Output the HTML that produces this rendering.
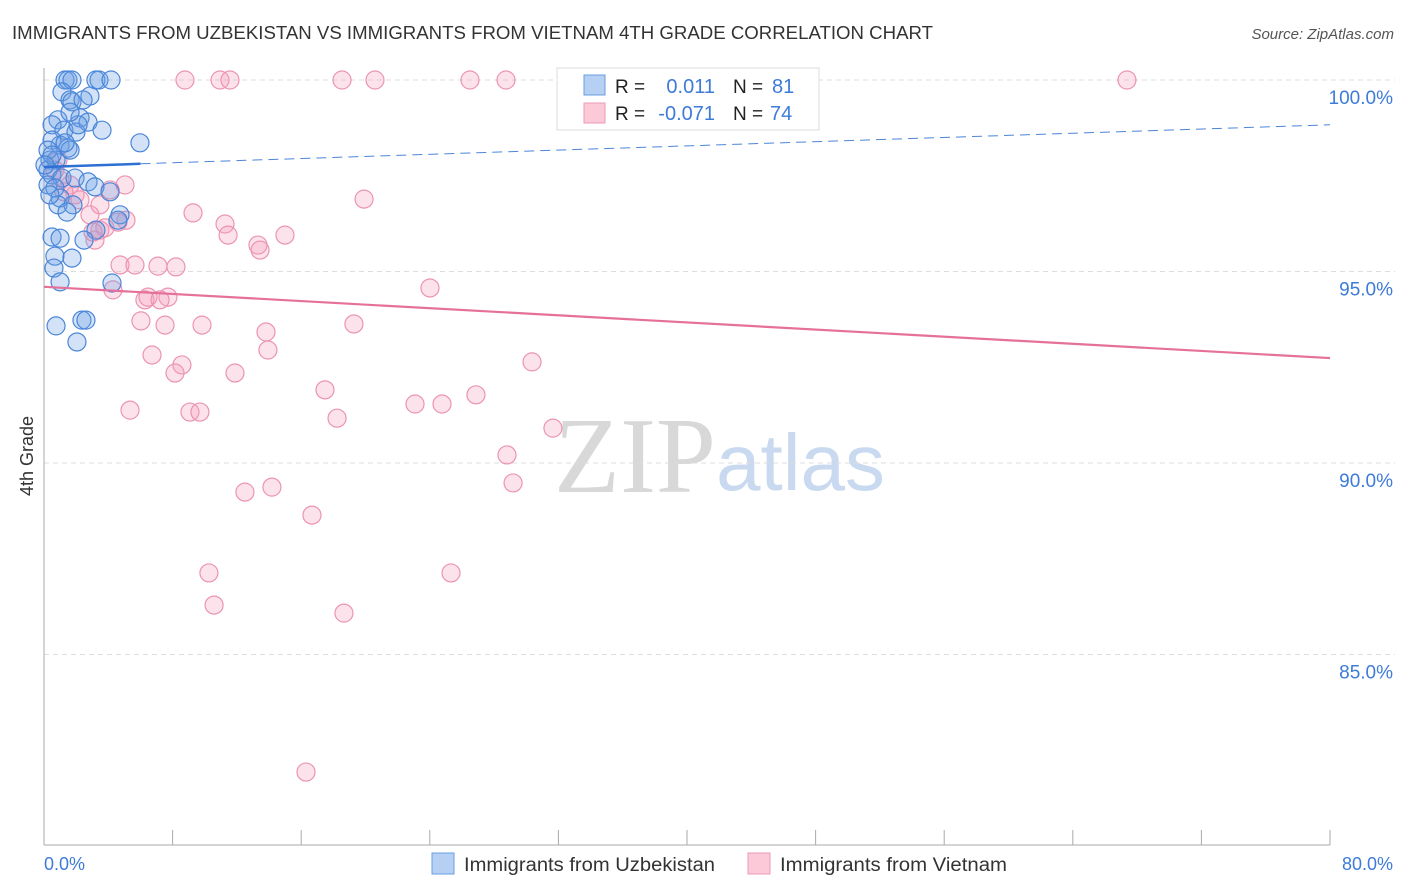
<!DOCTYPE html>
<html><head><meta charset="utf-8"><style>
body{margin:0;background:#fff;font-family:"Liberation Sans",sans-serif}
svg{display:block}
</style></head><body>
<svg id="c" width="1406" height="892" xmlns="http://www.w3.org/2000/svg">
<text x="12" y="39" font-size="18" fill="#333" textLength="921" lengthAdjust="spacingAndGlyphs">IMMIGRANTS FROM UZBEKISTAN VS IMMIGRANTS FROM VIETNAM 4TH GRADE CORRELATION CHART</text>
<text x="1394" y="39" font-size="15" fill="#555" font-style="italic" text-anchor="end">Source: ZipAtlas.com</text>
<text x="716" y="492" font-size="108" fill="#d8d8d8" text-anchor="end" font-family="Liberation Serif,serif">ZIP</text>
<text x="716" y="490" font-size="80" fill="#c9daf0">atlas</text>
<g id="grid"></g>
<line x1="44" y1="68" x2="44" y2="845" stroke="#aaa"/>
<line x1="44" y1="845" x2="1330" y2="845" stroke="#aaa"/>
<text x="33" y="456" font-size="18" fill="#333" transform="rotate(-90 33 456)" text-anchor="middle">4th Grade</text>
<text x="44" y="870" font-size="18" fill="#3d7bd9">0.0%</text>
<text x="1393" y="870" font-size="18" fill="#3d7bd9" text-anchor="end">80.0%</text>
<g id="pts"></g>
<g id="trend"></g>
<g>
<rect x="557" y="68" width="262" height="62" fill="#fff" stroke="#ddd"/>
<rect x="584" y="75" width="21" height="20" fill="#b6d0f4" stroke="#6a9ee0"/>
<rect x="584" y="103" width="21" height="20" fill="#fbc9d8" stroke="#ee9ab5"/>
<text x="615" y="93" font-size="19" fill="#222">R =</text>
<text x="715" y="93" font-size="20" fill="#3d7bd9" text-anchor="end">0.011</text>
<text x="733" y="93" font-size="19" fill="#222">N =</text>
<text x="772" y="93" font-size="20" fill="#3d7bd9">81</text>
<text x="615" y="120" font-size="19" fill="#222">R =</text>
<text x="715" y="120" font-size="20" fill="#3d7bd9" text-anchor="end">-0.071</text>
<text x="733" y="120" font-size="19" fill="#222">N =</text>
<text x="770" y="120" font-size="20" fill="#3d7bd9">74</text>
</g>
<g>
<rect x="432" y="853" width="22" height="21" fill="#b6d0f4" stroke="#6a9ee0"/>
<text x="464" y="871" font-size="19" fill="#333" textLength="251" lengthAdjust="spacingAndGlyphs">Immigrants from Uzbekistan</text>
<rect x="748" y="853" width="22" height="21" fill="#fbc9d8" stroke="#ee9ab5"/>
<text x="780" y="871" font-size="19" fill="#333" textLength="227" lengthAdjust="spacingAndGlyphs">Immigrants from Vietnam</text>
</g>
</svg>
<script>
const yTicks=[100,95,90,85];
const yTickLabels=["100.0%","95.0%","90.0%","85.0%"];
const xTicks=[0,8,16,24,32,40,48,56,64,72,80];
const blueX=[1.31,1.49,1.74,3.23,3.42,4.17,1.12,1.62,1.74,2.86,2.43,2.24,0.87,0.50,1.24,1.99,2.74,3.61,1.00,1.49,1.62,0.50,5.97,0.37,0.75,0.25,0.50,1.12,0.25,0.68,1.93,2.74,3.17,4.11,1.00,0.87,1.80,1.43,4.73,4.60,3.23,2.49,0.50,1.00,0.68,1.74,0.62,1.00,4.23,0.75,2.36,2.61,2.05,0.25,0.50,1.31,2.12,1.62,0.37,0.06];
const blueY=[100,100,100,100,100,100,99.69,99.48,99.43,99.58,99.48,99.01,98.96,98.83,98.69,98.64,98.90,98.69,98.30,98.22,98.17,98.43,98.36,97.91,97.91,97.65,97.52,97.44,97.26,97.18,97.44,97.34,97.21,97.08,96.92,96.74,96.74,96.55,96.48,96.34,96.08,95.82,95.90,95.87,95.40,95.35,95.09,94.73,94.70,93.58,93.73,93.73,93.16,98.17,98.04,98.36,98.83,99.16,97.00,97.78];
const pinkX=[8.77,10.95,11.57,18.54,20.59,26.50,28.74,43.11,67.37,0.87,0.68,1.00,1.62,1.93,2.24,1.24,2.86,3.48,3.17,3.79,5.10,4.60,9.27,11.26,11.45,14.99,13.31,13.44,19.91,4.73,5.66,7.09,8.21,4.29,6.28,6.47,7.71,7.22,6.03,7.53,9.83,13.81,19.28,24.01,6.72,8.58,8.15,13.93,11.88,30.36,17.48,5.35,9.08,9.70,18.23,23.08,24.76,26.87,31.66,28.80,29.18,12.50,14.18,16.67,10.26,25.32,10.58,18.66,16.30,4.11,5.04,3.48,3.05];
const pinkY=[100,100,100,100,100,100,100,100,100,97.91,97.65,97.39,97.26,97.00,96.87,97.08,96.48,96.08,95.82,96.14,96.34,96.29,96.53,96.24,95.95,95.95,95.69,95.56,96.89,95.17,95.17,95.14,95.12,94.52,94.26,94.33,94.33,94.26,93.71,93.60,93.60,93.42,93.63,94.57,92.82,92.56,92.35,92.95,92.35,92.64,91.91,91.38,91.33,91.33,91.17,91.54,91.54,91.78,90.91,90.21,89.48,89.24,89.37,88.64,87.13,87.13,86.29,86.08,81.93,97.13,97.26,96.74,96.03];
const blueTrend=[97.73,98.83];
const pinkTrend=[94.60,92.74];
const NS="http://www.w3.org/2000/svg";
const sx=v=>44+v*16.075;
const sy=v=>80+(100-v)*38.3;
function mk(t,a,p){const e=document.createElementNS(NS,t);for(const k in a)e.setAttribute(k,a[k]);p.appendChild(e);return e;}
const grid=document.getElementById('grid');
yTicks.forEach((t,i)=>{
 const l=mk('line',{x1:44,x2:1395,y1:sy(t),y2:sy(t),stroke:'#ddd','stroke-dasharray':'5,4'},grid);
 
 
 const tx=mk('text',{x:1393,y:sy(t)+24,'font-size':19,fill:'#3d7bd9','text-anchor':'end'},grid);
 tx.textContent=yTickLabels[i];
 
 
});
xTicks.forEach(t=>{
 const l=mk('line',{x1:sx(t),x2:sx(t),y1:830,y2:845,stroke:'#aaa'},grid);
 
 
});
const pts=document.getElementById('pts');
pinkX.forEach((x,i)=>{
 const c=mk('circle',{cx:sx(x),cy:sy(pinkY[i]),r:9,fill:'rgba(244,160,190,0.3)',stroke:'#eb94b2','stroke-width':1.2},pts);
 
 
});
blueX.forEach((x,i)=>{
 const c=mk('circle',{cx:sx(x),cy:sy(blueY[i]),r:9,fill:'rgba(110,160,230,0.3)',stroke:'#4a86d8','stroke-width':1.2},pts);
 
 
});
const tr=document.getElementById('trend');
const by=x=>blueTrend[0]+(blueTrend[1]-blueTrend[0])*x/80;
const b1=mk('line',{x1:sx(0),y1:sy(by(0)),x2:sx(6),y2:sy(by(6)),stroke:'#2d6fd2','stroke-width':2.5},tr);


const b2=mk('line',{x1:sx(6),y1:sy(by(6)),x2:sx(80),y2:sy(by(80)),stroke:'#4a86d8','stroke-width':1,'stroke-dasharray':'10,6'},tr);


const p1=mk('line',{x1:sx(0),y1:sy(pinkTrend[0]),x2:sx(80),y2:sy(pinkTrend[1]),stroke:'#e5709a','stroke-width':2.2},tr);


</script>
</body></html>
